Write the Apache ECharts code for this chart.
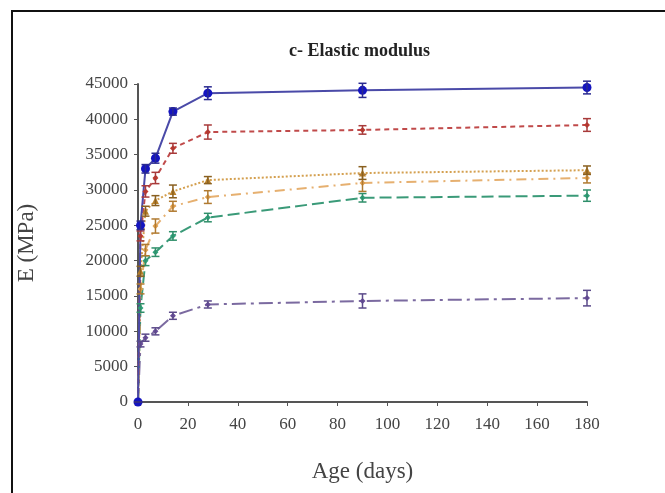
<!DOCTYPE html>
<html>
<head>
<meta charset="utf-8">
<script src="https://cdn.jsdelivr.net/npm/echarts@6/dist/echarts.min.js"></script>
<style>
  html, body { margin: 0; padding: 0; background: #fff; }
  #chart { width: 665px; height: 493px; }
</style>
</head>
<body>
<div id="chart"></div>
<script>
// ages (days)
var days = [0, 1, 3, 7, 14, 28, 90, 180];
var xTicks = [0, 20, 40, 60, 80, 100, 120, 140, 160, 180];
var yTicks = [0, 5000, 10000, 15000, 20000, 25000, 30000, 35000, 40000, 45000];

// E (MPa) per mix
var blueE   = [0, 25000, 33000, 34500, 41100, 43700, 44100, 44500];
var redE    = [0, 23500, 29800, 31700, 35900, 38200, 38500, 39200];
var brownE  = [0, 18500, 27000, 28500, 29800, 31400, 32400, 32800];
var orangeE = [0, 16000, 21500, 24900, 27700, 29000, 31000, 31700];
var greenE  = [0, 13300, 20000, 21200, 23500, 26100, 28900, 29200];
var purpleE = [0, 8200, 9100, 10000, 12200, 13800, 14300, 14700];

// error bar half widths
var blueErr   = [0, 600, 600, 700, 500, 900, 1000, 900];
var redErr    = [0, 700, 800, 800, 700, 1000, 600, 900];
var brownErr  = [0, 700, 700, 700, 900, 500, 900, 600];
var orangeErr = [0, 700, 800, 1000, 700, 900, 1200, 700];
var greenErr  = [0, 600, 700, 600, 600, 600, 600, 800];
var purpleErr = [0, 400, 500, 500, 500, 500, 1000, 1100];

var myChart = echarts.init(document.getElementById('chart'));

function pairs(vals) {
  return days.map(function (d, i) { return [d, vals[i]]; });
}

function lineSeries(vals, color, lineColor, type, symbol, size) {
  return {
    type: 'line',
    data: pairs(vals),
    symbol: symbol,
    symbolSize: size,
    itemStyle: { color: color },
    lineStyle: { color: lineColor, width: 2, type: type },
    z: 3
  };
}

function errSeries(vals, errs, color) {
  return {
    type: 'custom',
    data: days.map(function (d, i) { return [d, vals[i] - errs[i], vals[i] + errs[i]]; }),
    renderItem: function (params, api) {
      var lo = api.coord([api.value(0), api.value(1)]);
      var hi = api.coord([api.value(0), api.value(2)]);
      var w = 4;
      var st = { stroke: color, lineWidth: 1.5 };
      return {
        type: 'group',
        children: [
          { type: 'line', shape: { x1: lo[0], y1: lo[1], x2: hi[0], y2: hi[1] }, style: st },
          { type: 'line', shape: { x1: lo[0] - w, y1: lo[1], x2: lo[0] + w, y2: lo[1] }, style: st },
          { type: 'line', shape: { x1: hi[0] - w, y1: hi[1], x2: hi[0] + w, y2: hi[1] }, style: st }
        ]
      };
    },
    z: 4
  };
}

var serif = 'Liberation Serif';
var axisFont = { fontFamily: serif, fontSize: 17, color: '#444' };

var option = {
  animation: false,
  backgroundColor: '#fff',
  graphic: [{
    type: 'rect',
    shape: { x: 12, y: 11, width: 700, height: 520 },
    style: { fill: 'none', stroke: '#111', lineWidth: 2 },
    silent: true
  }],
  title: {
    text: 'c- Elastic modulus',
    left: 284,
    top: 37,
    textStyle: { fontFamily: serif, fontSize: 18, fontWeight: 'bold', color: '#222' }
  },
  grid: { left: 138, right: 78, top: 84, bottom: 91, containLabel: false },
  xAxis: {
    type: 'value',
    min: 0,
    max: 180,
    interval: 20,
    name: 'Age (days)',
    nameLocation: 'middle',
    nameGap: 58,
    nameTextStyle: { fontFamily: serif, fontSize: 23, color: '#444' },
    axisLine: { lineStyle: { color: '#555', width: 2 } },
    axisTick: { show: true, length: 4, lineStyle: { color: '#555' } },
    axisLabel: Object.assign({ margin: 14 }, axisFont),
    splitLine: { show: false }
  },
  yAxis: {
    type: 'value',
    min: 0,
    max: 45000,
    interval: 5000,
    name: 'E (MPa)',
    nameLocation: 'middle',
    nameGap: 100,
    nameTextStyle: { fontFamily: serif, fontSize: 23, color: '#444' },
    axisLine: { show: true, lineStyle: { color: '#555', width: 2 } },
    axisTick: { show: true, length: 4, lineStyle: { color: '#555' } },
    axisLabel: Object.assign({ margin: 10, formatter: function (v) { return String(v); } }, axisFont),
    splitLine: { show: false }
  },
  series: [
    errSeries(purpleE, purpleErr, '#5b4a8a'),
    errSeries(greenE, greenErr, '#2f8f6a'),
    errSeries(orangeE, orangeErr, '#b07a30'),
    errSeries(brownE, brownErr, '#8a6020'),
    errSeries(redE, redErr, '#a83a3a'),
    errSeries(blueE, blueErr, '#2a2a90'),
    lineSeries(purpleE, '#6a4d9a', '#7b6aa0', [14, 5, 3, 5], 'diamond', 6),
    lineSeries(greenE, '#2fa07a', '#3a9a78', [12, 5], 'diamond', 6),
    lineSeries(orangeE, '#e0a050', '#e6b070', [10, 5, 2, 5], 'diamond', 6),
    lineSeries(brownE, '#b8802a', '#d4a050', [2, 2], 'triangle', 7),
    lineSeries(redE, '#c0392b', '#c04a4a', [5, 4], 'diamond', 6),
    lineSeries(blueE, '#1414c0', '#4a4aa8', 'solid', 'circle', 9)
  ]
};
myChart.setOption(option);
</script>
</body>
</html>
